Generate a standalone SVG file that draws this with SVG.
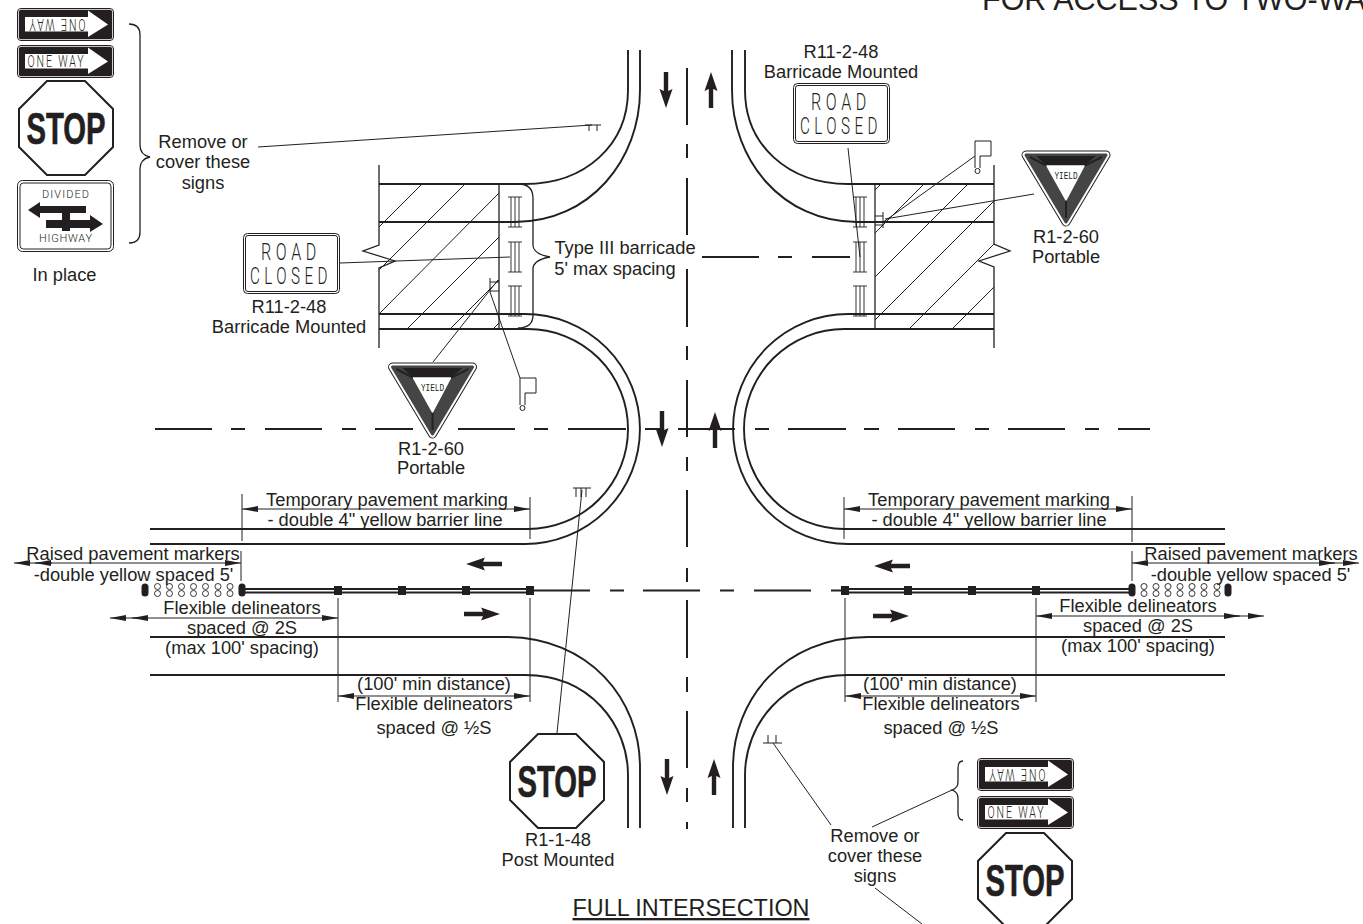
<svg xmlns="http://www.w3.org/2000/svg" width="1363" height="924" viewBox="0 0 1363 924">
<style>
text{font-family:"Liberation Sans",Arial,sans-serif;fill:#231f20}
.l{font-size:18.3px;text-anchor:middle}
.m{font-family:"Liberation Mono",monospace;text-anchor:middle}
.t{font-family:Roboto,"Liberation Sans",sans-serif;font-weight:300;text-anchor:middle}
.b{font-weight:bold;text-anchor:middle;stroke:#231f20;stroke-width:.7}
.road{fill:none;stroke:#231f20;stroke-width:1.9}
.thin{fill:none;stroke:#231f20;stroke-width:1}
.mid{fill:none;stroke:#231f20;stroke-width:1.3}
.dash{fill:none;stroke:#231f20;stroke-width:2}
.dim{fill:none;stroke:#231f20;stroke-width:1;marker-end:url(#tip)}
.dim2{fill:none;stroke:#231f20;stroke-width:1;marker-start:url(#tip);marker-end:url(#tip)}
.k{fill:#231f20}
</style>
<defs>
<marker id="tip" viewBox="0 0 16 6" refX="16" refY="3" markerWidth="16" markerHeight="6" markerUnits="userSpaceOnUse" orient="auto-start-reverse"><path d="M0,0 L16,3 L0,6 Z" fill="#231f20"/></marker>
<path id="fat" d="M0,-2.200 H19 L17,-6.500 L36,0 L17,6.500 L19,2.200 H0 Z" fill="#231f20"/>
<g id="oneway">
<rect x="0.5" y="0.5" width="96" height="32" rx="3.5" fill="#fff" stroke="#231f20"/>
<rect x="1.8" y="1.8" width="93.4" height="29.4" rx="2.5" fill="#231f20"/>
<path d="M8,9 H71 V2.500 L91,16.500 L71,29 V23.500 H8 Z" fill="#fff"/>
<text class="t" x="39.500" y="22" font-size="17" letter-spacing="3" textLength="58" lengthAdjust="spacingAndGlyphs">ONE WAY</text>
</g>
<g id="onewayflip">
<rect x="0.5" y="0.5" width="96" height="32" rx="3.5" fill="#fff" stroke="#231f20"/>
<rect x="1.8" y="1.8" width="93.4" height="29.4" rx="2.5" fill="#231f20"/>
<path d="M8,9 H71 V2.500 L91,16.500 L71,29 V23.500 H8 Z" fill="#fff"/>
<text class="t" font-size="17" letter-spacing="3" textLength="58" lengthAdjust="spacingAndGlyphs" transform="rotate(180 39.500 16.250)" x="39.500" y="22">ONE WAY</text>
</g>
<g id="stopsign">
<path d="M29,1 H67 L95,29 V67 L67,95 H29 L1,67 V29 Z" fill="#fff" stroke="#231f20" stroke-width="2"/>
<text class="b" x="48" y="64" font-size="45" textLength="79" lengthAdjust="spacingAndGlyphs">STOP</text>
</g>
<g id="yieldsign">
<path d="M-40,5 H40 L0,72 Z" fill="#231f20" stroke="#231f20" stroke-width="9" stroke-linejoin="round"/>
<path d="M-40,5 H40 L0,72 Z" fill="#fff" stroke="#fff" stroke-width="7" stroke-linejoin="round"/>
<path d="M-40,5 H40 L0,72 Z" fill="#454545" stroke="#454545" stroke-width="3" stroke-linejoin="round"/>
<path d="M-30,6 H30 L18,16 H-19 Z" class="k"/>
<path d="M-36,7 L-19,16 M36,7 L18,16 M0,50 V68" stroke="#222" stroke-width="2" fill="none"/>
<path d="M-19,16 H18 L0,50 Z" fill="#fff" stroke="#fff" stroke-width="1.500" stroke-linejoin="round"/>
<text class="m" x="0" y="29" font-size="10" textLength="23" lengthAdjust="spacingAndGlyphs">YIELD</text>
</g>
<g id="roadclosed">
<rect x="0.5" y="0.5" width="96" height="60" rx="4" fill="#fff" stroke="#231f20"/>
<rect x="2.5" y="2.5" width="92" height="56" rx="2.5" fill="none" stroke="#231f20"/>
<text class="t" x="48" y="27" font-size="24" letter-spacing="7" textLength="60" lengthAdjust="spacingAndGlyphs">ROAD</text>
<text class="t" x="48" y="51" font-size="24" letter-spacing="7" textLength="82" lengthAdjust="spacingAndGlyphs">CLOSED</text>
</g>
<g id="barricade" fill="none" stroke="#231f20" stroke-width=".9">
<path d="M0,0 H14 M0,30 H14 M3,0 V30 M7,0 V30 M11,0 V30"/>
</g>
<rect id="post" x="-4" y="-4.500" width="8" height="9" class="k"/>
<rect id="pill" x="-3.500" y="-6.500" width="7" height="13" rx="3.500" class="k"/>
<g id="rpm" fill="none" stroke="#231f20" stroke-width=".9"><circle cx="0" cy="-3.500" r="3"/><circle cx="0" cy="3.500" r="3"/></g>
</defs>

<text id="title" x="982" y="9.500" font-size="30.500">FOR ACCESS TO TWO-WA</text>

<g id="connectors">
<g id="roads" class="road">
<path d="M628,50 V90 C628,145 585,184 525,184 H379"/>
<path d="M640,50 V90 C640,160 590,222 515,222 H379"/>
<path d="M745,50 V90 C745,145 788,184 848,184 H994"/>
<path d="M732,50 V90 C732,160 782,222 857,222 H994"/>
<path d="M379,314 H525 A115,115 0 0 1 525,544 H150"/>
<path d="M379,329 H528 A100,100 0 0 1 528,529 H150"/>
<path d="M994,314 H848 A115,115 0 0 0 848,544 H1225"/>
<path d="M994,329 H844 A100,100 0 0 0 844,529 H1225"/>
<path d="M150,637 H505 C590,637 640,700 640,767 V828"/>
<path d="M150,675 H525 C590,675 628,725 628,775 V828"/>
<path d="M1225,637 H868 C783,637 733,700 733,767 V828"/>
<path d="M1225,675 H848 C783,675 745,725 745,775 V828"/>
</g>
<g id="closure" class="mid">
<path d="M379,165 V245 L363,251 L395,261 L379,268 V348"/>
<path d="M499,184 V329"/>
<path d="M994,165 V244 L1010,251 L979,261 L994,267 V348"/>
<path d="M875,184 V329"/>
</g>
<g id="hatch" class="thin">
<path d="M422,184 L379,227 M465,184 L379,270 M499,193 L379,314 M499,237 L407,329 M499,280 L450,329 M499,323 L493,329"/>
<path d="M875,190 L881,184 M875,233 L924,184 M875,277 L968,184 M875,320 L994,201 M909,329 L994,244 M952,329 L994,287"/>
</g>
<g id="centerlines" class="dash">
<path d="M687,68 V125 M687,144 V158 M687,178 V235 M687,269 V327 M687,346 V360 M687,380 V437 M687,457 V471 M687,490 V547 M687,568 V582 M687,600 V658 M687,677 V692 M687,711 V768 M687,788 V802 M687,822 V829"/>
<path d="M155,429 H212 M231,429 H245 M265,429 H322 M342,429 H356 M375,429 H413 M458,429 H515 M534,429 H548 M568,429 H626 M645,429 H660 M678,429 H735 M755,429 H769 M788,429 H846 M864,429 H879 M898,429 H955 M975,429 H989 M1008,429 H1065 M1085,429 H1099 M1118,429 H1150"/>
<path d="M530,590.500 H590 M610,590.500 H624 M643,590.500 H700 M720,590.500 H734 M754,590.500 H811 M831,590.500 H845"/>
<path d="M243,589 H530 M243,592.500 H530 M845,589 H1132 M845,592.500 H1132" stroke-width="1.800"/>
</g>
<g id="direction-arrows">
<use href="#fat" transform="translate(666,72) rotate(90)"/>
<use href="#fat" transform="translate(711,108) rotate(-90)"/>
<use href="#fat" transform="translate(662,411) rotate(90)"/>
<use href="#fat" transform="translate(715,448) rotate(-90)"/>
<use href="#fat" transform="translate(667,759) rotate(90)"/>
<use href="#fat" transform="translate(714,795) rotate(-90)"/>
<use href="#fat" transform="translate(502,564) rotate(180)"/>
<use href="#fat" transform="translate(464,614)"/>
<use href="#fat" transform="translate(910,566) rotate(180)"/>
<use href="#fat" transform="translate(873,616)"/>
</g>
<g id="dimensions">
<path class="thin" d="M242,494 V541 M530,497 V539 M844,497 V539 M1132,496 V542 M241,551 V581 M1132,551 V581 M338,598 V702 M530,598 V702 M845,598 V702 M1036,598 V702"/>
<path class="dim2" d="M242,509 H530"/>
<path class="dim2" d="M844,509 H1132"/>
<path class="dim2" d="M14,563 H241"/>
<path class="dim" d="M52,563 H35"/>
<path class="dim2" d="M1132,563 H1359"/>
<path class="dim" d="M1319,563 H1335"/>
<path class="dim2" d="M110,618 H338"/>
<path class="dim" d="M148,618 H132"/>
<path class="dim2" d="M1036,616 H1264"/>
<path class="dim" d="M1224,616 H1240"/>
<path class="dim2" d="M338,696 H530"/>
<path class="dim2" d="M845,696 H1036"/>
</g>
<g id="leaders" class="thin">
<path d="M258,147 L592,125"/>
<path d="M340,263 L510,257"/>
<path d="M848,148 L860,257"/>
<path d="M433,362 L498,280"/>
<path d="M520,378 L490,292"/>
<path d="M975,156 L882,223"/>
<path d="M1034,194 L885,219"/>
<path d="M582,490 L557,733"/>
<path d="M773,743 L831,825"/>
<path d="M872,827 L952,790"/>
<path d="M875,888 L922,924"/>
<path d="M702,257 H759 M778,257 H792 M812,257 H850" stroke-width="1.800"/>
</g>
<g id="braces" class="mid">
<path d="M129,24 Q140,24 140,35 V145 Q140,155 150,157 Q140,159 140,169 V232 Q140,243 129,243"/>
<path d="M518,184 Q533,184 533,198 V245 Q533,254 550,257 Q533,260 533,269 V315 Q533,328 518,328"/>
<path d="M963,761 Q958,761 958,768 V782 Q958,788 952,790 Q958,792 958,798 V813 Q958,820 963,820"/>
</g>
</g>

<g id="sign-left-oneway-inverted"><use href="#onewayflip" transform="translate(17,8)"/></g>
<g id="sign-left-oneway"><use href="#oneway" transform="translate(17,45)"/></g>
<g id="sign-left-stop"><use href="#stopsign" transform="translate(18,80)"/></g>
<g id="sign-divided-highway">
<rect x="17.500" y="180.500" width="96" height="71" rx="5" fill="#fff" stroke="#231f20"/>
<rect x="20" y="183" width="91" height="66" rx="3.500" fill="none" stroke="#231f20"/>
<text class="t" x="65.500" y="198" font-size="11" textLength="47">DIVIDED</text>
<text class="t" x="65.500" y="242" font-size="11" textLength="53">HIGHWAY</text>
<path class="k" d="M28,210 L40,202 V206 H86 V213 H70 V220 H90 V215 L103,224 L90,232 V228 H70 V231 H62 V228 H46 V220 H62 V213 H40 V218 Z"/>
</g>
<g id="label-remove-top">
<text class="l" x="203" y="148">Remove or</text>
<text class="l" x="203" y="168">cover these</text>
<text class="l" x="203" y="189">signs</text>
</g>
<text id="label-in-place" class="l" x="64.500" y="281">In place</text>

<g id="sign-road-closed-left"><use href="#roadclosed" transform="translate(243,233)"/>
<text class="l" x="289" y="313">R11-2-48</text><text class="l" x="289" y="333">Barricade Mounted</text></g>
<g id="sign-road-closed-right"><use href="#roadclosed" transform="translate(793,83)"/>
<text class="l" x="841" y="58">R11-2-48</text><text class="l" x="841" y="78">Barricade Mounted</text></g>

<g id="barricades-left"><use href="#barricade" transform="translate(508,197)"/><use href="#barricade" transform="translate(508,242)"/><use href="#barricade" transform="translate(508,286)"/></g>
<g id="barricades-right"><use href="#barricade" transform="translate(853,197)"/><use href="#barricade" transform="translate(853,242)"/><use href="#barricade" transform="translate(853,286)"/></g>
<g id="label-barricade"><text class="l" x="625" y="254">Type III barricade</text><text class="l" x="615" y="275">5' max spacing</text></g>

<g id="sign-yield-left"><use href="#yieldsign" transform="translate(432.500,362)"/><text class="l" x="431" y="455">R1-2-60</text><text class="l" x="431" y="474">Portable</text></g>
<g id="sign-yield-right"><use href="#yieldsign" transform="translate(1066,150)"/><text class="l" x="1066" y="243">R1-2-60</text><text class="l" x="1066" y="263">Portable</text></g>

<g id="flag-left" class="thin"><path d="M520,378 H536 V393 H525 V405 M520,378 V405"/><circle cx="522.500" cy="408" r="2.500"/></g>
<g id="flag-right" class="thin"><path d="M975,141 H991 V156 H980 V168 M975,141 V168"/><circle cx="977.500" cy="171" r="2.500"/></g>
<g id="post-symbols" class="thin">
<path d="M490,278 V292 M490,282 H499 M490,291 H499"/>
<path d="M883,212 V228 M875,216 H883 M875,225 H883"/>
<path d="M585,125 H601 M589,125 V131 M597,125 V131"/>
<path d="M573,488 H591 M576,488 V497 M581,488 V497 M586,488 V497"/>
<path d="M763,743 H782 M768,735 V743 M776,735 V743"/>
</g>

<g id="delineators">
<use href="#pill" x="145" y="590"/><use href="#pill" x="242" y="590"/>
<use href="#pill" x="1132" y="590"/><use href="#pill" x="1228" y="590"/>
<use href="#post" x="338" y="590.500"/><use href="#post" x="402" y="590.500"/><use href="#post" x="466" y="590.500"/><use href="#post" x="530" y="590.500"/>
<use href="#post" x="845" y="590.500"/><use href="#post" x="908" y="590.500"/><use href="#post" x="972" y="590.500"/><use href="#post" x="1036" y="590.500"/>
</g>
<g id="raised-markers">
<use href="#rpm" x="157.500" y="590"/><use href="#rpm" x="169.500" y="590"/><use href="#rpm" x="181.500" y="590"/><use href="#rpm" x="193.500" y="590"/><use href="#rpm" x="205.500" y="590"/><use href="#rpm" x="218" y="590"/><use href="#rpm" x="230" y="590"/>
<use href="#rpm" x="1144" y="590"/><use href="#rpm" x="1156" y="590"/><use href="#rpm" x="1168" y="590"/><use href="#rpm" x="1180" y="590"/><use href="#rpm" x="1192" y="590"/><use href="#rpm" x="1204" y="590"/><use href="#rpm" x="1217" y="590"/>
</g>

<g id="labels-left">
<text class="l" x="387" y="506">Temporary pavement marking</text>
<text class="l" x="385" y="526">- double 4" yellow barrier line</text>
<text class="l" x="133" y="560">Raised pavement markers</text>
<text class="l" x="133.500" y="581">-double yellow spaced 5'</text>
<text class="l" x="242" y="614">Flexible delineators</text>
<text class="l" x="242" y="634">spaced @ 2S</text>
<text class="l" x="242" y="654">(max 100' spacing)</text>
<text class="l" x="434" y="690">(100' min distance)</text>
<text class="l" x="434" y="710">Flexible delineators</text>
<text class="l" x="434" y="734">spaced @ ½S</text>
</g>
<g id="labels-right">
<text class="l" x="989" y="506">Temporary pavement marking</text>
<text class="l" x="989" y="526">- double 4" yellow barrier line</text>
<text class="l" x="1251" y="560">Raised pavement markers</text>
<text class="l" x="1250.500" y="581">-double yellow spaced 5'</text>
<text class="l" x="1138" y="612">Flexible delineators</text>
<text class="l" x="1138" y="632">spaced @ 2S</text>
<text class="l" x="1138" y="652">(max 100' spacing)</text>
<text class="l" x="940" y="690">(100' min distance)</text>
<text class="l" x="941" y="710">Flexible delineators</text>
<text class="l" x="941" y="734">spaced @ ½S</text>
</g>

<g id="sign-stop-mounted"><use href="#stopsign" transform="translate(509,733)"/>
<text class="l" x="558" y="846">R1-1-48</text><text class="l" x="558" y="866">Post Mounted</text></g>
<text id="caption" x="691" y="916" font-size="23.400" text-anchor="middle" text-decoration="underline">FULL INTERSECTION</text>
<g id="label-remove-bottom">
<text class="l" x="875" y="842">Remove or</text>
<text class="l" x="875" y="862">cover these</text>
<text class="l" x="875" y="882">signs</text>
</g>
<g id="sign-right-oneway-inverted"><use href="#onewayflip" transform="translate(977,758)"/></g>
<g id="sign-right-oneway"><use href="#oneway" transform="translate(977,796)"/></g>
<g id="sign-right-stop"><use href="#stopsign" transform="translate(977,832)"/></g>
</svg>
